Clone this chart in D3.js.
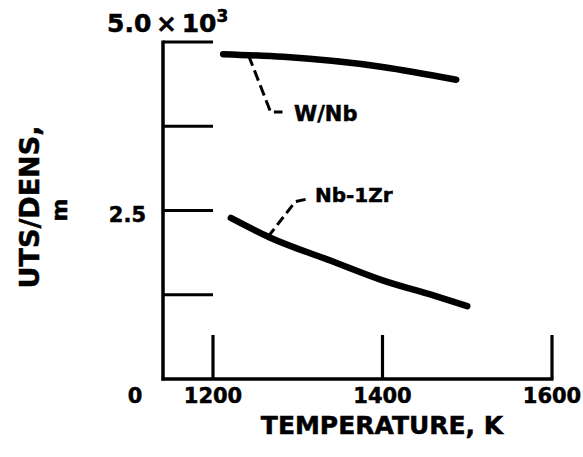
<!DOCTYPE html>
<html>
<head>
<meta charset="utf-8">
<script src="https://cdn.jsdelivr.net/npm/d3@7"></script>
<style>
  html, body { margin: 0; padding: 0; background: #fff; }
  svg { display: block; }
  svg text.lbl { font-family: "DejaVu Sans", "Liberation Sans", sans-serif; font-weight: bold; fill: #000; stroke: #000; stroke-width: 0.5px; }
</style>
</head>
<body>
<svg id="chart" width="583" height="457"></svg>
<script>
// ---- data ----
const xTicks = [1200, 1400, 1600];
const xTickLabels = ["1200", "1400", "1600"];
const yTicks = [5.0, 3.75, 2.5, 1.25];
const yLabelTicks = [2.5];
const yTickLabels = ["2.5"];
const seriesNames = ["W/Nb", "Nb-1Zr"];
const wnbTemp = [1212, 1283, 1400, 1487];
const wnbValue = [4.82, 4.78, 4.63, 4.44];
const nbzrTemp = [1221, 1267, 1340, 1401, 1460, 1500];
const nbzrValue = [2.39, 2.10, 1.75, 1.46, 1.24, 1.08];

const svg = d3.select("#chart");
const x = d3.scaleLinear().domain([1200, 1600]).range([213, 552]);
const y = d3.scaleLinear().domain([0, 5]).range([379, 42]);
const axisX = 163; // y-axis position (left of first x tick)

// y axis (ticks pointing inward)
const gy = svg.append("g").attr("transform", `translate(${axisX},0)`)
  .call(d3.axisLeft(y).offset(0).tickValues(yTicks).tickSize(-50).tickSizeOuter(0).tickFormat(""));
gy.select(".domain").attr("stroke-width", 3.5).attr("d", `M0,${y(0)+1.5}V${y(5)-1.5}`);
gy.selectAll(".tick line").attr("stroke-width", 3.2);
svg.selectAll("text.ylab").data(yLabelTicks).join("text").attr("class", "lbl ylab")
  .attr("x", axisX - 17).attr("y", d => y(d)).attr("dy", "0.55em")
  .attr("text-anchor", "end").style("font-size", "21px").text((d, i) => yTickLabels[i]);

// x axis (ticks pointing up)
const gx = svg.append("g").attr("transform", `translate(0,${y(0)})`)
  .call(d3.axisBottom(x).offset(0).tickValues(xTicks).tickSize(-44).tickSizeOuter(0).tickFormat(""));
gx.select(".domain").attr("stroke-width", 3.5).attr("d", `M${axisX-1.5},0H${x(1600)+1.5}`);
gx.selectAll(".tick line").attr("stroke-width", 3.2);
svg.selectAll("text.xlab").data(xTicks).join("text").attr("class", "lbl xlab")
  .attr("x", d => x(d)).attr("y", y(0) + 9).attr("dy", "0.71em")
  .attr("text-anchor", "middle").style("font-size", "21px").text((d, i) => xTickLabels[i]);

// origin label
svg.append("text").attr("class", "lbl").attr("x", 135).attr("y", y(0) + 9).attr("dy", "0.71em")
  .attr("text-anchor", "middle").style("font-size", "21px").text("0");

// top label 5.0 x 10^3
const topLabel = svg.append("text").attr("class", "lbl").attr("x", 107).attr("y", 32)
  .style("font-size", "25px").attr("word-spacing", -4);
topLabel.append("tspan").text("5.0 × 10");
topLabel.append("tspan").style("font-size", "17px").attr("dy", -10).text("3");

// axis titles
svg.append("text").attr("class", "lbl").attr("transform", "translate(39,207) rotate(-90)")
  .attr("text-anchor", "middle").style("font-size", "27px").text("UTS/DENS,");
svg.append("text").attr("class", "lbl").attr("transform", "translate(67,210) rotate(-90)")
  .attr("text-anchor", "middle").style("font-size", "22px").text("m");
svg.append("text").attr("class", "lbl").attr("x", 382).attr("y", 434).attr("text-anchor", "middle")
  .style("font-size", "25px").text("TEMPERATURE, K");

// curves
const line = d3.line().x(d => x(d[0])).y(d => y(d[1])).curve(d3.curveMonotoneX);
const series = [
  d3.zip(wnbTemp, wnbValue),
  d3.zip(nbzrTemp, nbzrValue)
];
svg.selectAll("path.curve").data(series).join("path").attr("class", "curve")
  .attr("d", line).attr("fill", "none").attr("stroke", "#000")
  .attr("stroke-width", 6.5).attr("stroke-linecap", "round").attr("stroke-linejoin", "round");

// leaders (dashed) and labels
const leader = d3.line();
svg.append("path").attr("d", leader([[x(1242), y(4.80)], [x(1268), y(3.96)], [x(1282), y(3.96)]]))
  .attr("fill", "none").attr("stroke", "#000").attr("stroke-width", 3).attr("stroke-dasharray", "11,5");
svg.append("text").attr("class", "lbl").attr("x", 294).attr("y", 121).style("font-size", "21px").text(seriesNames[0]);

svg.append("path").attr("d", leader([[x(1265), y(2.11)], [x(1297), y(2.63)], [x(1311), y(2.67)]]))
  .attr("fill", "none").attr("stroke", "#000").attr("stroke-width", 3).attr("stroke-dasharray", "10,5");
svg.append("text").attr("class", "lbl").attr("x", 315).attr("y", 202).style("font-size", "20px").text(seriesNames[1]);
</script>
</body>
</html>
